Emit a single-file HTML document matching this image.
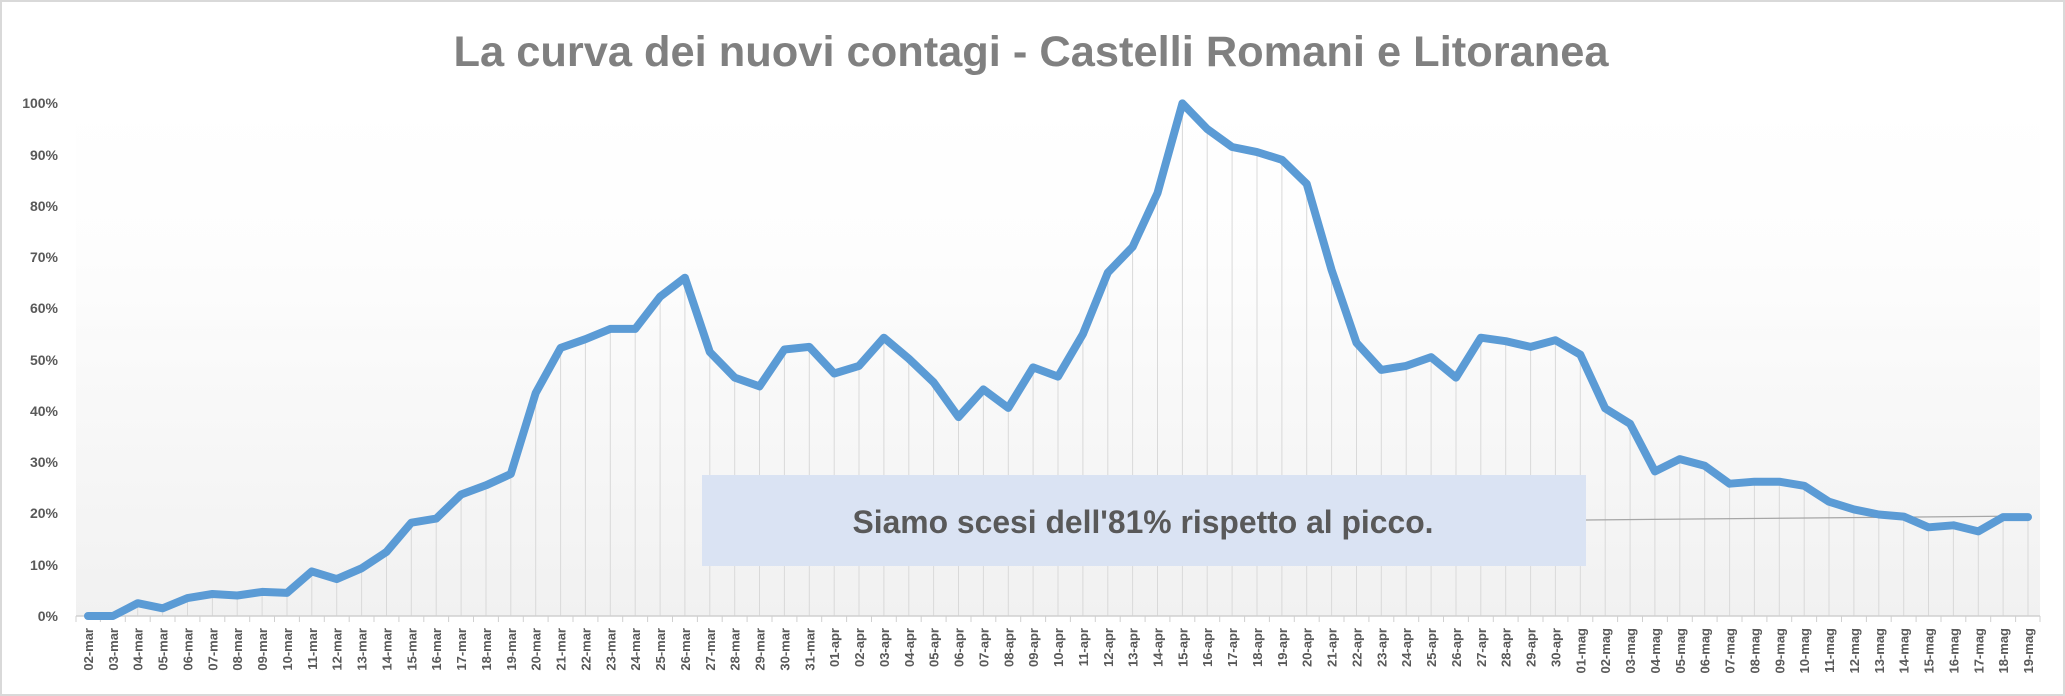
<!DOCTYPE html>
<html><head><meta charset="utf-8"><style>
html,body{margin:0;padding:0;background:#fff}
svg{display:block}
.y{font:bold 14px "Liberation Sans",sans-serif;fill:#595959}
.x text{font:bold 13px "Liberation Sans",sans-serif;fill:#595959}
</style></head><body>
<svg width="2065" height="696" viewBox="0 0 2065 696" xmlns="http://www.w3.org/2000/svg">
<defs><linearGradient id="g" x1="0" y1="0" x2="0" y2="1">
<stop offset="0" stop-color="#ffffff"/><stop offset="0.3" stop-color="#fdfdfd"/><stop offset="1" stop-color="#f1f1f1"/></linearGradient></defs>
<rect x="1" y="1" width="2063" height="694" fill="#fff" stroke="#d9d9d9" stroke-width="2"/>
<rect x="76" y="103" width="1964" height="513" fill="url(#g)"/>
<text x="1031" y="66" text-anchor="middle" font-family="Liberation Sans, sans-serif" font-weight="bold" font-size="43" fill="#808080" textLength="1155" lengthAdjust="spacingAndGlyphs">La curva dei nuovi contagi - Castelli Romani e Litoranea</text>
<g class="y" text-anchor="end">
<text x="58" y="621">0%</text><text x="58" y="570">10%</text><text x="58" y="518">20%</text><text x="58" y="467">30%</text><text x="58" y="416">40%</text><text x="58" y="365">50%</text><text x="58" y="313">60%</text><text x="58" y="262">70%</text><text x="58" y="211">80%</text><text x="58" y="160">90%</text><text x="58" y="108">100%</text>
</g>
<path stroke="#d9d9d9" stroke-width="1" fill="none" d="M88,616V616M112.9,616V616M137.7,616V603.2M162.6,616V608.3M187.5,616V598.1M212.4,616V594M237.2,616V595.5M262.1,616V591.9M287,616V592.9M311.8,616V571.4M336.7,616V579.1M361.6,616V568.3M386.5,616V551.9M411.3,616V522.7M436.2,616V518.6M461.1,616V494.5M486,616V485.3M510.8,616V474M535.7,616V393M560.6,616V347.9M585.4,616V339.2M610.3,616V328.9M635.2,616V328.9M660.1,616V296.7M684.9,616V277.7M709.8,616V352M734.7,616V377.6M759.5,616V386.4M784.4,616V349.5M809.3,616V346.9M834.2,616V373.5M859,616V365.9M883.9,616V337.7M908.8,616V358.7M933.6,616V382.3M958.5,616V417.1M983.4,616V389.4M1008.3,616V407.9M1033.1,616V367.4M1058,616V376.6M1082.9,616V334.1M1107.8,616V272.6M1132.6,616V246.9M1157.5,616V193.1M1182.4,616V103.4M1207.2,616V129M1232.1,616V147M1257,616V152.1M1281.9,616V159.8M1306.7,616V183.9M1331.6,616V270M1356.5,616V342.8M1381.3,616V369.9M1406.2,616V365.9M1431.1,616V357.1M1456,616V377.6M1480.8,616V337.7M1505.7,616V341.2M1530.6,616V346.9M1555.4,616V340.2M1580.3,616V354.6M1605.2,616V408.4M1630.1,616V423.8M1654.9,616V471.4M1679.8,616V459.1M1704.7,616V465.8M1729.6,616V483.7M1754.4,616V481.7M1779.3,616V481.7M1804.2,616V485.8M1829,616V501.7M1853.9,616V509.4M1878.8,616V514.5M1903.7,616V516.6M1928.5,616V527.3M1953.4,616V525.3M1978.3,616V531.4M2003.1,616V517.1M2028,616V517.1"/>
<line x1="76" y1="616" x2="2040" y2="616" stroke="#d0d0d0" stroke-width="1.5"/>
<path stroke="#d0d0d0" stroke-width="1" d="M76,616v6M100.4,616v6M125.3,616v6M150.2,616v6M175,616v6M199.9,616v6M224.8,616v6M249.7,616v6M274.5,616v6M299.4,616v6M324.3,616v6M349.2,616v6M374,616v6M398.9,616v6M423.8,616v6M448.6,616v6M473.5,616v6M498.4,616v6M523.3,616v6M548.1,616v6M573,616v6M597.9,616v6M622.7,616v6M647.6,616v6M672.5,616v6M697.4,616v6M722.2,616v6M747.1,616v6M772,616v6M796.9,616v6M821.7,616v6M846.6,616v6M871.5,616v6M896.3,616v6M921.2,616v6M946.1,616v6M971,616v6M995.8,616v6M1020.7,616v6M1045.6,616v6M1070.4,616v6M1095.3,616v6M1120.2,616v6M1145.1,616v6M1169.9,616v6M1194.8,616v6M1219.7,616v6M1244.6,616v6M1269.4,616v6M1294.3,616v6M1319.2,616v6M1344,616v6M1368.9,616v6M1393.8,616v6M1418.7,616v6M1443.5,616v6M1468.4,616v6M1493.3,616v6M1518.1,616v6M1543,616v6M1567.9,616v6M1592.8,616v6M1617.6,616v6M1642.5,616v6M1667.4,616v6M1692.3,616v6M1717.1,616v6M1742,616v6M1766.9,616v6M1791.7,616v6M1816.6,616v6M1841.5,616v6M1866.4,616v6M1891.2,616v6M1916.1,616v6M1941,616v6M1965.8,616v6M1990.7,616v6M2015.6,616v6M2040,616v6"/>
<rect x="702" y="475" width="884" height="91" fill="#dae3f3"/>
<text x="1143" y="533" text-anchor="middle" font-family="Liberation Sans, sans-serif" font-weight="bold" font-size="32" fill="#595959" textLength="581" lengthAdjust="spacingAndGlyphs">Siamo scesi dell'81% rispetto al picco.</text>
<line x1="1586" y1="520" x2="2028" y2="516" stroke="#a6a6a6" stroke-width="1.2"/>
<polyline fill="none" stroke="#5b9bd5" stroke-width="8" stroke-linejoin="round" stroke-linecap="round" points="88,616 112.9,616 137.7,603.2 162.6,608.3 187.5,598.1 212.4,594 237.2,595.5 262.1,591.9 287,592.9 311.8,571.4 336.7,579.1 361.6,568.3 386.5,551.9 411.3,522.7 436.2,518.6 461.1,494.5 486,485.3 510.8,474 535.7,393 560.6,347.9 585.4,339.2 610.3,328.9 635.2,328.9 660.1,296.7 684.9,277.7 709.8,352 734.7,377.6 759.5,386.4 784.4,349.5 809.3,346.9 834.2,373.5 859,365.9 883.9,337.7 908.8,358.7 933.6,382.3 958.5,417.1 983.4,389.4 1008.3,407.9 1033.1,367.4 1058,376.6 1082.9,334.1 1107.8,272.6 1132.6,246.9 1157.5,193.1 1182.4,103.4 1207.2,129 1232.1,147 1257,152.1 1281.9,159.8 1306.7,183.9 1331.6,270 1356.5,342.8 1381.3,369.9 1406.2,365.9 1431.1,357.1 1456,377.6 1480.8,337.7 1505.7,341.2 1530.6,346.9 1555.4,340.2 1580.3,354.6 1605.2,408.4 1630.1,423.8 1654.9,471.4 1679.8,459.1 1704.7,465.8 1729.6,483.7 1754.4,481.7 1779.3,481.7 1804.2,485.8 1829,501.7 1853.9,509.4 1878.8,514.5 1903.7,516.6 1928.5,527.3 1953.4,525.3 1978.3,531.4 2003.1,517.1 2028,517.1"/>
<g class="x" text-anchor="end">
<text transform="translate(93,628) rotate(-90)">02-mar</text>
<text transform="translate(117.9,628) rotate(-90)">03-mar</text>
<text transform="translate(142.7,628) rotate(-90)">04-mar</text>
<text transform="translate(167.6,628) rotate(-90)">05-mar</text>
<text transform="translate(192.5,628) rotate(-90)">06-mar</text>
<text transform="translate(217.4,628) rotate(-90)">07-mar</text>
<text transform="translate(242.2,628) rotate(-90)">08-mar</text>
<text transform="translate(267.1,628) rotate(-90)">09-mar</text>
<text transform="translate(292,628) rotate(-90)">10-mar</text>
<text transform="translate(316.8,628) rotate(-90)">11-mar</text>
<text transform="translate(341.7,628) rotate(-90)">12-mar</text>
<text transform="translate(366.6,628) rotate(-90)">13-mar</text>
<text transform="translate(391.5,628) rotate(-90)">14-mar</text>
<text transform="translate(416.3,628) rotate(-90)">15-mar</text>
<text transform="translate(441.2,628) rotate(-90)">16-mar</text>
<text transform="translate(466.1,628) rotate(-90)">17-mar</text>
<text transform="translate(491,628) rotate(-90)">18-mar</text>
<text transform="translate(515.8,628) rotate(-90)">19-mar</text>
<text transform="translate(540.7,628) rotate(-90)">20-mar</text>
<text transform="translate(565.6,628) rotate(-90)">21-mar</text>
<text transform="translate(590.4,628) rotate(-90)">22-mar</text>
<text transform="translate(615.3,628) rotate(-90)">23-mar</text>
<text transform="translate(640.2,628) rotate(-90)">24-mar</text>
<text transform="translate(665.1,628) rotate(-90)">25-mar</text>
<text transform="translate(689.9,628) rotate(-90)">26-mar</text>
<text transform="translate(714.8,628) rotate(-90)">27-mar</text>
<text transform="translate(739.7,628) rotate(-90)">28-mar</text>
<text transform="translate(764.5,628) rotate(-90)">29-mar</text>
<text transform="translate(789.4,628) rotate(-90)">30-mar</text>
<text transform="translate(814.3,628) rotate(-90)">31-mar</text>
<text transform="translate(839.2,628) rotate(-90)">01-apr</text>
<text transform="translate(864,628) rotate(-90)">02-apr</text>
<text transform="translate(888.9,628) rotate(-90)">03-apr</text>
<text transform="translate(913.8,628) rotate(-90)">04-apr</text>
<text transform="translate(938.6,628) rotate(-90)">05-apr</text>
<text transform="translate(963.5,628) rotate(-90)">06-apr</text>
<text transform="translate(988.4,628) rotate(-90)">07-apr</text>
<text transform="translate(1013.3,628) rotate(-90)">08-apr</text>
<text transform="translate(1038.1,628) rotate(-90)">09-apr</text>
<text transform="translate(1063,628) rotate(-90)">10-apr</text>
<text transform="translate(1087.9,628) rotate(-90)">11-apr</text>
<text transform="translate(1112.8,628) rotate(-90)">12-apr</text>
<text transform="translate(1137.6,628) rotate(-90)">13-apr</text>
<text transform="translate(1162.5,628) rotate(-90)">14-apr</text>
<text transform="translate(1187.4,628) rotate(-90)">15-apr</text>
<text transform="translate(1212.2,628) rotate(-90)">16-apr</text>
<text transform="translate(1237.1,628) rotate(-90)">17-apr</text>
<text transform="translate(1262,628) rotate(-90)">18-apr</text>
<text transform="translate(1286.9,628) rotate(-90)">19-apr</text>
<text transform="translate(1311.7,628) rotate(-90)">20-apr</text>
<text transform="translate(1336.6,628) rotate(-90)">21-apr</text>
<text transform="translate(1361.5,628) rotate(-90)">22-apr</text>
<text transform="translate(1386.3,628) rotate(-90)">23-apr</text>
<text transform="translate(1411.2,628) rotate(-90)">24-apr</text>
<text transform="translate(1436.1,628) rotate(-90)">25-apr</text>
<text transform="translate(1461,628) rotate(-90)">26-apr</text>
<text transform="translate(1485.8,628) rotate(-90)">27-apr</text>
<text transform="translate(1510.7,628) rotate(-90)">28-apr</text>
<text transform="translate(1535.6,628) rotate(-90)">29-apr</text>
<text transform="translate(1560.4,628) rotate(-90)">30-apr</text>
<text transform="translate(1585.3,628) rotate(-90)">01-mag</text>
<text transform="translate(1610.2,628) rotate(-90)">02-mag</text>
<text transform="translate(1635.1,628) rotate(-90)">03-mag</text>
<text transform="translate(1659.9,628) rotate(-90)">04-mag</text>
<text transform="translate(1684.8,628) rotate(-90)">05-mag</text>
<text transform="translate(1709.7,628) rotate(-90)">06-mag</text>
<text transform="translate(1734.6,628) rotate(-90)">07-mag</text>
<text transform="translate(1759.4,628) rotate(-90)">08-mag</text>
<text transform="translate(1784.3,628) rotate(-90)">09-mag</text>
<text transform="translate(1809.2,628) rotate(-90)">10-mag</text>
<text transform="translate(1834,628) rotate(-90)">11-mag</text>
<text transform="translate(1858.9,628) rotate(-90)">12-mag</text>
<text transform="translate(1883.8,628) rotate(-90)">13-mag</text>
<text transform="translate(1908.7,628) rotate(-90)">14-mag</text>
<text transform="translate(1933.5,628) rotate(-90)">15-mag</text>
<text transform="translate(1958.4,628) rotate(-90)">16-mag</text>
<text transform="translate(1983.3,628) rotate(-90)">17-mag</text>
<text transform="translate(2008.1,628) rotate(-90)">18-mag</text>
<text transform="translate(2033,628) rotate(-90)">19-mag</text>
</g>
</svg>
</body></html>
